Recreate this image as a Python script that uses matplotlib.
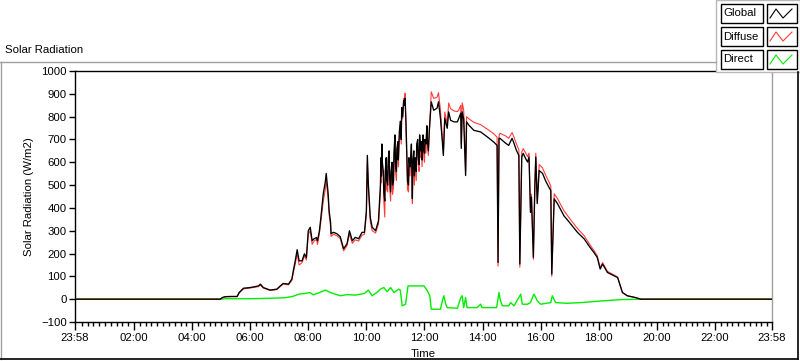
import numpy as np
import matplotlib
matplotlib.use("Agg")
import matplotlib.pyplot as plt
from matplotlib.patches import Rectangle
from matplotlib.lines import Line2D

plt.rcParams['font.family'] = ['Liberation Sans', 'DejaVu Sans']
plt.rcParams['font.size'] = 8.2

# global / diffuse share one time base (clock time, first sample is 23:58 of the previous day)
times = ["23:58", "04:58", "05:02", "05:08", "05:21", "05:33", "05:37", "05:46", "06:00", "06:17",
         "06:21", "06:27", "06:41", "06:55", "07:02", "07:08", "07:19", "07:26", "07:29", "07:33",
         "07:37", "07:41", "07:47", "07:52", "07:56", "08:00", "08:04", "08:08", "08:12", "08:17",
         "08:19", "08:23", "08:26", "08:31", "08:35", "08:37", "08:41", "08:43", "08:46", "08:47",
         "08:52", "08:59", "09:06", "09:13", "09:20", "09:25", "09:31", "09:37", "09:44", "09:51",
         "09:56", "10:00", "10:02", "10:04", "10:08", "10:12", "10:19", "10:25",
         # noisy midday
         "10:29", "10:30", "10:31", "10:32", "10:33", "10:35", "10:36", "10:38", "10:39", "10:41",
         "10:42", "10:44", "10:45", "10:47", "10:48", "10:50", "10:51", "10:53", "10:54", "10:56",
         "10:57", "10:59", "11:00", "11:02", "11:03", "11:05", "11:06", "11:08", "11:10", "11:12",
         "11:13", "11:15", "11:17", "11:19", "11:20", "11:22", "11:24", "11:25", "11:27", "11:28",
         "11:30", "11:31", "11:33", "11:35", "11:36", "11:38", "11:39", "11:41", "11:43", "11:44",
         "11:46", "11:47", "11:49", "11:50", "11:52", "11:54", "11:55", "11:57", "11:58", "12:00",
         "12:01", "12:03", "12:05", "12:06", "12:08", "12:10",
         # afternoon
         "12:14", "12:19", "12:26", "12:29", "12:33", "12:37", "12:39", "12:42", "12:47", "12:50",
         "12:54", "13:01", "13:08", "13:11", "13:15", "13:16", "13:18", "13:21", "13:25", "13:27",
         "13:32", "13:42", "13:56", "14:10", "14:23", "14:30", "14:32", "14:34", "14:36", "14:48",
         "14:54", "15:01", "15:05", "15:10", "15:15", "15:17", "15:21", "15:24", "15:29", "15:33",
         "15:36", "15:39", "15:41", "15:45", "15:48", "15:50", "15:53", "15:57", "16:04", "16:10",
         "16:17", "16:21", "16:23", "16:28", "16:35", "16:48", "17:02", "17:16", "17:30", "17:42",
         "17:50", "17:57", "18:03", "18:08", "18:18", "18:39", "18:49", "18:59", "19:16", "19:27",
         "23:58"]

global_rad = [0, 0, 7, 11, 12, 12, 29, 48, 51, 58,
              66, 51, 40, 44, 58, 69, 66, 88, 124, 168,
              217, 168, 168, 199, 183, 300, 315, 256, 265, 270,
              256, 300, 359, 463, 513, 551, 463, 388, 337, 287,
              293, 287, 274, 221, 243, 300, 256, 271, 265, 293,
              293, 388, 630, 507, 359, 315, 300, 344,
              500, 620, 540, 680, 600, 560, 470, 430, 560, 620,
              520, 500, 610, 650, 540, 470, 560, 600, 500, 520,
              640, 720, 600, 560, 660, 690, 610, 730, 780, 700,
              840, 800, 870, 850, 880, 760, 600, 520, 500, 620,
              580, 600, 680, 440, 600, 650, 540, 620, 560, 680,
              700, 620, 590, 720, 650, 690, 610, 720, 660, 640,
              700, 680, 760, 700, 650, 740,
              865, 828, 837, 865, 793, 689, 630, 793, 749, 821,
              784, 777, 777, 793, 815, 661, 821, 790, 542, 777,
              762, 740, 733, 711, 689, 674, 161, 705, 705, 683,
              674, 705, 683, 652, 630, 154, 623, 639, 616, 601,
              623, 380, 447, 183, 491, 623, 419, 564, 551, 520,
              491, 476, 110, 440, 418, 366, 330, 293, 264, 227,
              205, 183, 132, 154, 117, 95, 29, 15, 7, 0,
              0]

diffuse_rad = [0, 0, 5, 10, 11, 11, 26, 45, 49, 55,
               62, 49, 38, 42, 55, 66, 63, 82, 115, 155,
               200, 150, 160, 190, 172, 285, 300, 240, 255, 262,
               240, 290, 340, 430, 480, 520, 440, 370, 320, 275,
               285, 278, 265, 212, 235, 285, 245, 260, 255, 280,
               285, 370, 600, 490, 340, 300, 290, 330,
               470, 590, 510, 650, 560, 540, 430, 360, 520, 600,
               480, 470, 580, 630, 500, 430, 520, 580, 460, 490,
               610, 690, 560, 520, 640, 670, 580, 700, 760, 680,
               830, 790, 880, 860, 903, 740, 580, 480, 470, 590,
               540, 580, 650, 420, 560, 620, 500, 600, 520, 650,
               680, 590, 560, 700, 620, 670, 580, 700, 640, 600,
               680, 640, 740, 690, 630, 720,
               909, 880, 885, 905, 830, 700, 640, 820, 770, 860,
               835, 825, 822, 830, 850, 680, 860, 830, 560, 800,
               790, 775, 765, 745, 725, 710, 145, 715, 727, 715,
               705, 730, 710, 680, 655, 140, 645, 660, 640, 625,
               640, 390, 460, 175, 500, 640, 430, 590, 575, 545,
               515, 495, 100, 462, 440, 388, 348, 310, 278, 238,
               214, 190, 138, 160, 122, 97, 30, 15, 7, 0,
               0]

# direct has its own time base
times_direct = ["23:58", "04:58", "05:10", "06:00", "06:40", "07:10", "07:26", "07:41", "07:52", "08:04",
                "08:10", "08:22", "08:35", "08:46", "09:06", "09:20", "09:37", "09:56", "10:04", "10:12",
                "10:22", "10:29", "10:36", "10:43", "10:50", "10:57", "11:07", "11:10", "11:14", "11:21",
                "11:26", "11:38", "11:59", "12:06", "12:11", "12:14", "12:33", "12:37", "12:40", "12:44",
                "12:47", "13:08", "13:15", "13:18", "13:21", "13:25", "13:28", "13:49", "13:56", "13:59",
                "14:29", "14:34", "14:37", "14:41", "14:54", "14:58", "15:05", "15:19", "15:22", "15:33",
                "15:39", "15:46", "15:50", "15:53", "16:00", "16:21", "16:24", "16:31", "16:55", "17:30",
                "18:04", "18:45", "19:27", "23:58"]

direct_rad = [0, 0, 2, 2, 4, 6, 11, 22, 25, 29,
              19, 28, 40, 29, 15, 20, 18, 25, 40, 15,
              30, 44, 51, 33, 51, 29, 44, 40, -29, -22,
              58, 58, 58, 37, 15, -44, -44, -7, 15, -22,
              -37, -40, 7, 15, -37, 7, -37, -37, -22, -37,
              -37, 29, -7, -29, -29, -15, -29, 22, -22, -22,
              -15, 22, 7, -7, -22, -15, 15, -15, -18, -14,
              -8, -2, 0, 0]

series_names = ["Global", "Diffuse", "Direct"]
series_colors = ["black", "#ff3b3b", "#00ee00"]

major_labels = ["23:58", "02:00", "04:00", "06:00", "08:00", "10:00", "12:00",
                "14:00", "16:00", "18:00", "20:00", "22:00", "23:58"]

assert len(times) == len(global_rad) == len(diffuse_rad)
assert len(times_direct) == len(direct_rad)


def to_hours(tlist):
    h = np.array([int(t[:2]) + int(t[3:]) / 60 for t in tlist])
    h[0] -= 24  # first sample belongs to the previous day
    return h


t_gd = to_hours(times)
t_dir = to_hours(times_direct)
x0, x1 = -2 / 60, 24 - 2 / 60

fig = plt.figure(figsize=(8, 3.61), dpi=100)
ax = fig.add_axes([75 / 800, 1 - 322 / 361, 697 / 800, 251 / 361])

ax.plot(t_dir, direct_rad, color=series_colors[2], lw=1.0, zorder=2)
ax.plot(t_gd, diffuse_rad, color=series_colors[1], lw=0.8, zorder=3)
ax.plot(t_gd, global_rad, color=series_colors[0], lw=0.95, zorder=4)

ax.set_xlim(x0, x1)
ax.set_ylim(-100, 1000)
ax.set_yticks(np.arange(-100, 1001, 100))
major_pos = [x0] + list(range(2, 23, 2)) + [x1]
ax.set_xticks(major_pos)
ax.set_xticklabels(major_labels)
minor = [m for m in np.arange(0.2, 23.95, 0.2) if abs(m / 2 - round(m / 2)) > 0.01]
ax.set_xticks(minor, minor=True)
ax.tick_params(axis='x', which='major', length=6, width=1, pad=2, labelsize=8.2)
ax.tick_params(axis='x', which='minor', length=3, width=1)
ax.tick_params(axis='y', length=4, width=1, pad=2, labelsize=8.2)
for s in ['left', 'top', 'bottom']:
    ax.spines[s].set_color('black')
    ax.spines[s].set_linewidth(1)
ax.spines['right'].set_color('#a0a0a0')
ax.spines['right'].set_linewidth(1)
ax.set_xlabel("Time", labelpad=4)
ax.set_ylabel("Solar Radiation (W/m2)", labelpad=5)

# overlay in pixel coordinates for the panel frame, caption and legend
ov = fig.add_axes([0, 0, 1, 1], zorder=10)
ov.set_xlim(0, 800)
ov.set_ylim(361, 0)
ov.axis('off')
ov.add_line(Line2D([0, 716], [62, 62], color='#a0a0a0', lw=1))
ov.add_line(Line2D([0.5, 0.5], [62, 359], color='#a0a0a0', lw=1))
ov.add_line(Line2D([0, 798], [359, 359], color='black', lw=1.2))
ov.add_line(Line2D([797.5, 797.5], [72, 359], color='black', lw=1.2))
ov.text(5, 50, "Solar Radiation", ha='left', va='center', fontsize=8.2)

ov.add_patch(Rectangle((716, 0), 84, 72, facecolor='white', edgecolor='#b8b8b8', lw=1))
for i, (name, col) in enumerate(zip(series_names, series_colors)):
    top = 4 + 23 * i
    ov.add_patch(Rectangle((721, top), 42, 19, facecolor='white', edgecolor='black', lw=1))
    ov.add_patch(Rectangle((767, top), 30, 19, facecolor='white', edgecolor='black', lw=1))
    ov.text(723, top + 9.5, name, ha='left', va='center', fontsize=8.2)
    ov.add_line(Line2D([770, 776, 783, 792], [top + 14, top + 5, top + 14, top + 5], color=col, lw=0.8))

fig.savefig("out.png", dpi=100)
